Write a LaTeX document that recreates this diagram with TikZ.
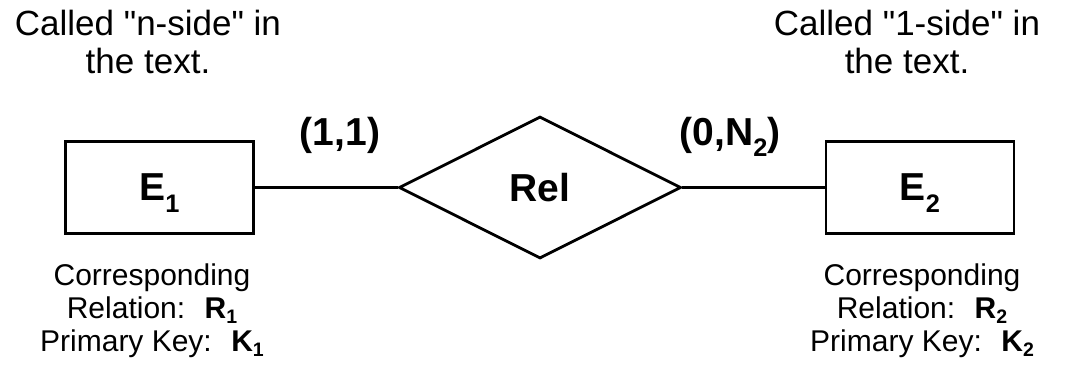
\documentclass[tikz,border=0pt]{standalone}
\usepackage{fontspec}
\setmainfont{Liberation Sans}
\usetikzlibrary{shapes.geometric}

% lowered index, as in E_1
\newcommand{\idx}[2][0.55ex]{\raisebox{-#1}[0pt][0pt]{\scalebox{0.65}{#2}}}

\begin{document}
\begin{tikzpicture}[x=0.5pt, y=-0.5pt, line width=1.4pt,
    entity/.style={draw, minimum width=94pt, minimum height=46pt,
        font=\fontsize{19.5}{23}\selectfont\bfseries},
    relship/.style={draw, diamond, inner sep=0pt, minimum width=141pt,
        minimum height=71pt, font=\fontsize{19.5}{23}\selectfont\bfseries},
    card/.style={font=\fontsize{19.5}{23}\selectfont\bfseries},
    remark/.style={align=center, font=\fontsize{17.5}{19}\selectfont},
    note/.style={align=center, font=\fontsize{15}{16.5}\selectfont}]
    \useasboundingbox (0,0) rectangle (1079,371);

    % --- entities and relationship ---
    \node[entity] (e1) at (159.5,187.5) {E\idx{1}};
    \node[relship] (rel) at (540,187.5) {Rel};
    \node[entity] (e2) at (920,187.5) {E\idx{2}};

    \draw (e1) -- (rel);
    \draw (rel) -- (e2);

    % --- cardinalities ---
    \node[card] (c1) at (340,135) {(1,1)};
    \node[card] (c2) at (730,135) {(0,N\idx{2})};

    % --- side remarks ---
    \node[remark] (n1) at (148,42) {Called \textquotedbl n-side\textquotedbl{} in\\the text.};
    \node[remark] (n2) at (907,42) {Called \textquotedbl 1-side\textquotedbl{} in\\the text.};

    % --- relations and keys ---
    \node[note] (r1) at (152,311) {Corresponding\\Relation:~ \textbf{R\idx[0.3ex]{1}}\\Primary Key:~ \textbf{K\idx[0.3ex]{1}}};
    \node[note] (r2) at (922,311) {Corresponding\\Relation:~ \textbf{R\idx[0.3ex]{2}}\\Primary Key:~ \textbf{K\idx[0.3ex]{2}}};
\end{tikzpicture}
\end{document}
